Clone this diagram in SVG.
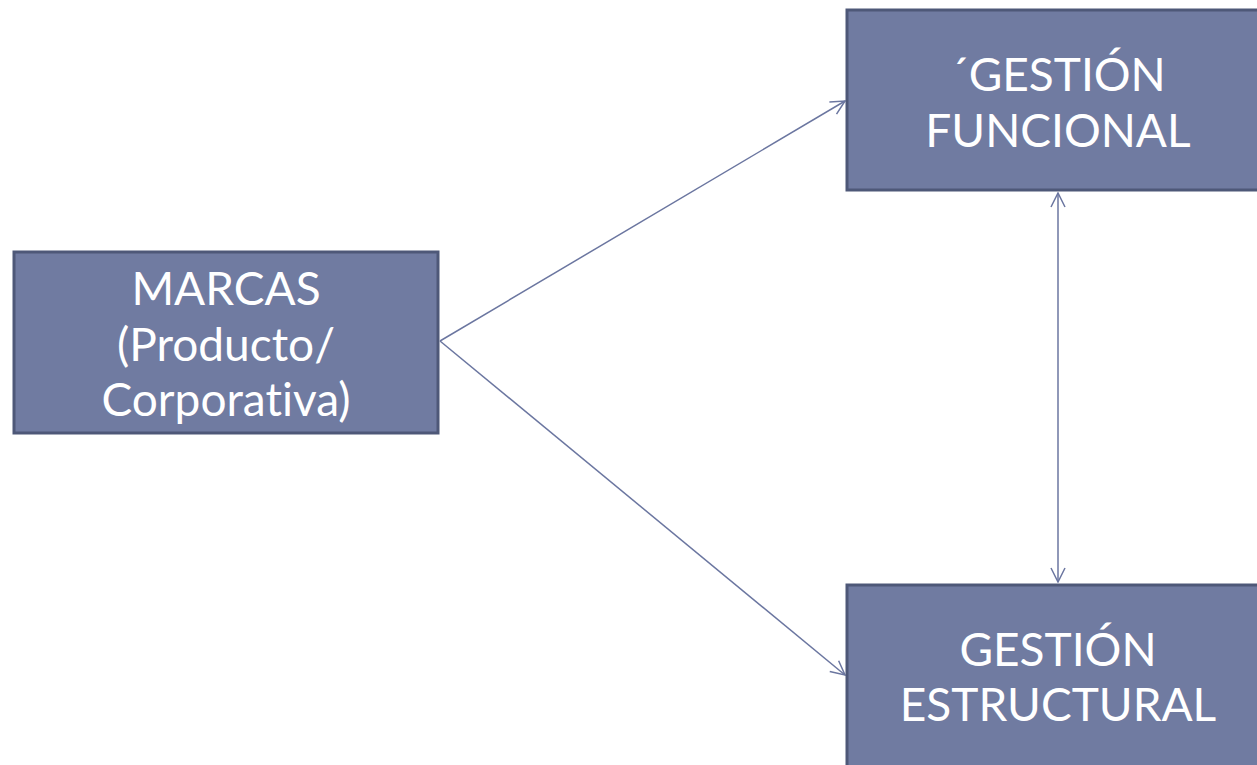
<svg xmlns="http://www.w3.org/2000/svg" width="1257" height="765" viewBox="0 0 1257 765">
<defs>
<style>
.box{fill:#707ba1;stroke:#4e5878;stroke-width:3}
.t{fill:#ffffff;font-family:Lato,"Open Sans","DejaVu Sans",sans-serif;font-size:46px;text-anchor:middle;font-variant-ligatures:none}
.c{fill:none;stroke:#6b76a0;stroke-width:1.5}
</style>
<marker id="ah" viewBox="0 0 16 16" refX="15" refY="8" markerWidth="16" markerHeight="16" markerUnits="userSpaceOnUse" orient="auto-start-reverse">
<path d="M1,1 L15,8 L1,15" fill="none" stroke="#6b76a0" stroke-width="1.5"/>
</marker>
</defs>
<rect width="1257" height="765" fill="#ffffff"/>
<g id="connectors">
<line class="c" x1="440" y1="341" x2="845" y2="101" marker-end="url(#ah)"/>
<line class="c" x1="440" y1="341" x2="845" y2="675" marker-end="url(#ah)"/>
<line class="c" x1="1058" y1="193" x2="1058" y2="582" marker-start="url(#ah)" marker-end="url(#ah)"/>
</g>
<g id="marcas">
<rect class="box" x="14" y="252" width="424" height="181"/>
<text class="t" x="226" y="305">MARCAS</text>
<text class="t" x="226" y="361">(Producto/</text>
<text class="t" x="226" y="416">Corporativa)</text>
</g>
<g id="gestion-funcional">
<rect class="box" x="847" y="10" width="420" height="180"/>
<text class="t" x="1058" y="91">´GESTIÓN</text>
<text class="t" x="1058" y="147">FUNCIONAL</text>
</g>
<g id="gestion-estructural">
<rect class="box" x="847" y="585" width="420" height="190"/>
<text class="t" x="1058" y="666">GESTIÓN</text>
<text class="t" x="1058" y="721">ESTRUCTURAL</text>
</g>
</svg>
